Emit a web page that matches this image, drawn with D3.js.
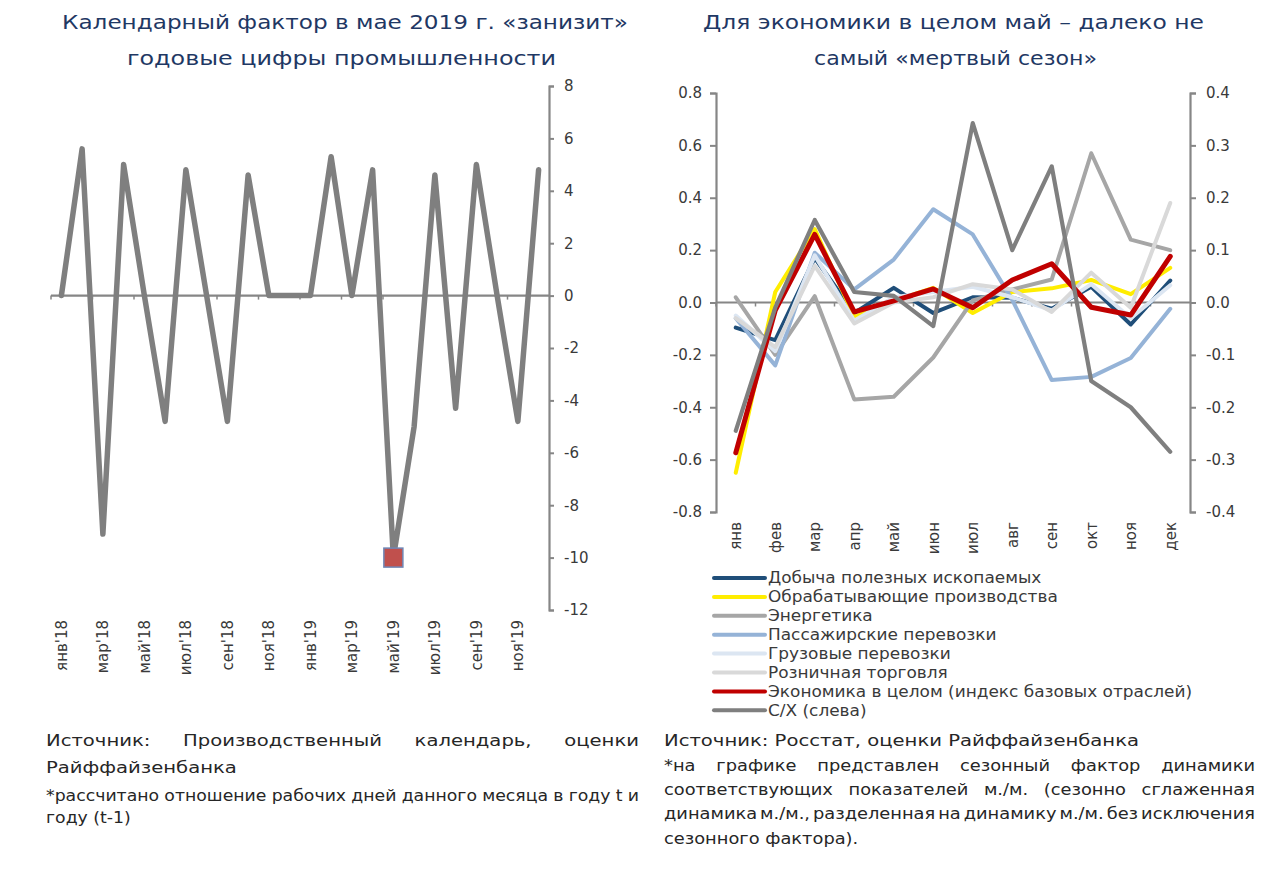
<!DOCTYPE html>
<html>
<head>
<meta charset="utf-8">
<script src="https://cdn.jsdelivr.net/npm/d3@7"></script>
<style>
  body { margin: 0; background: #fff; }
  svg { display: block; }
  text { font-family: 'DejaVu Sans', 'Noto Sans', sans-serif; }
</style>
</head>
<body>
<svg id="chart" width="1280" height="870"></svg>
<script>
// ---------------- DATA ----------------
// Left chart: calendar factor (working days ratio, %)
const monthsLeft = ["янв'18","фев'18","мар'18","апр'18","май'18","июн'18","июл'18","авг'18","сен'18","окт'18","ноя'18","дек'18",
                    "янв'19","фев'19","мар'19","апр'19","май'19","июн'19","июл'19","авг'19","сен'19","окт'19","ноя'19","дек'19"];
const calendarFactor = [0, 5.6, -9.1, 5.0, 0, -4.8, 4.8, 0, -4.8, 4.6, 0, 0,
                        0, 5.3, 0, 4.8, -10, -5.0, 4.6, -4.3, 5.0, 0, -4.8, 4.8];
const highlightMonth = "май'19";
const leftAxisTicks = [-12, -10, -8, -6, -4, -2, 0, 2, 4, 6, 8];

// Right chart: seasonal factors
const monthsRight = ["янв","фев","мар","апр","май","июн","июл","авг","сен","окт","ноя","дек"];
const mining      = [-0.048, -0.072, 0.085, -0.020, 0.028, -0.020, 0.010, 0.009, -0.012, 0.030, -0.042, 0.042];
const manufacturing = [-0.325, 0.020, 0.140, -0.028, 0.003, 0.028, -0.020, 0.020, 0.027, 0.043, 0.016, 0.066];
const energy      = [0.010, -0.100, 0.012, -0.185, -0.180, -0.105, 0.004, 0.025, 0.044, 0.285, 0.120, 0.100];
const passenger   = [-0.030, -0.120, 0.095, 0.025, 0.082, 0.178, 0.130, 0.005, -0.148, -0.142, -0.106, -0.012];
const freight     = [-0.025, -0.093, 0.090, -0.035, 0.010, 0.020, 0.030, 0.010, -0.015, 0.035, -0.030, 0.033];
const retail      = [-0.030, -0.085, 0.070, -0.040, 0.000, 0.010, 0.035, 0.025, -0.018, 0.057, -0.010, 0.190];
const economy     = [-0.287, -0.015, 0.130, -0.018, 0.003, 0.026, -0.010, 0.043, 0.074, -0.009, -0.024, 0.088];
const agriculture = [-0.490, -0.020, 0.315, 0.040, 0.025, -0.090, 0.685, 0.200, 0.520, -0.300, -0.400, -0.570]; // left axis

const seriesNames = ["Добыча полезных ископаемых","Обрабатывающие производства","Энергетика","Пассажирские перевозки",
                     "Грузовые перевозки","Розничная торговля","Экономика в целом (индекс базовых отраслей)","С/Х (слева)"];
const seriesValues = [mining, manufacturing, energy, passenger, freight, retail, economy, agriculture];
const seriesOnLeftAxis = [false, false, false, false, false, false, false, true];
const primaryTicks = [-0.8, -0.6, -0.4, -0.2, 0, 0.2, 0.4, 0.6, 0.8];
const secondaryTicks = [-0.4, -0.3, -0.2, -0.1, 0, 0.1, 0.2, 0.3, 0.4];

// Texts
const titleLeft = ["Календарный фактор в мае 2019 г. «занизит»", "годовые цифры промышленности"];
const titleRight = ["Для экономики в целом май – далеко не", "самый «мертвый сезон»"];
const sourceLeft = ["Источник: Производственный календарь, оценки", "Райффайзенбанка"];
const noteLeft = ["*рассчитано отношение рабочих дней данного месяца в году t и", "году (t-1)"];
const sourceRight = "Источник: Росстат, оценки Райффайзенбанка";
const noteRight = ["*на графике представлен сезонный фактор динамики",
                   "соответствующих показателей м./м. (сезонно сглаженная",
                   "динамика м./м., разделенная на динамику м./м. без исключения",
                   "сезонного фактора)."];

// ---------------- STYLE ----------------
const seriesColors = ["#1f4e79","#ffed00","#a6a6a6","#95b3d7","#dce6f2","#d9d9d9","#c00000","#7f7f7f"];
const seriesWidths = [4, 4, 4, 4, 4, 4, 5, 4.2];
const axisColor = "#868686";
const labelColor = "#3a3a3a";
const titleColor = "#1f3864";
const noteColor = "#262626";

const svg = d3.select("#chart");

function stretch(t, w) {
  t.attr("textLength", w).attr("lengthAdjust", "spacingAndGlyphs");
}
function natWidth(str, size) {
  const t = svg.append("text").attr("font-size", size).text(str);
  const w = t.node().getComputedTextLength();
  t.remove();
  return w;
}
function justify(str, x0, x1, y, size, k) {
  const words = str.split(/\s+/);
  const g = svg.append("g");
  const nodes = words.map(w => g.append("text").attr("y", y).attr("font-size", size).attr("fill", noteColor).text(w));
  const widths = nodes.map(n => n.node().getComputedTextLength() * k);
  const gap = (x1 - x0 - d3.sum(widths)) / (words.length - 1);
  let x = x0;
  nodes.forEach((n, i) => { n.attr("x", x); stretch(n, widths[i]); x += widths[i] + gap; });
}
function plain(str, x, y, size, k, color) {
  const t = svg.append("text").attr("x", x).attr("y", y).attr("font-size", size).attr("fill", color || noteColor).text(str);
  stretch(t, t.node().getComputedTextLength() * k);
  return t;
}

// ---------------- TITLES ----------------
function title(str, x, w, y) {
  const t = svg.append("text").attr("x", x).attr("y", y).attr("font-size", 20).attr("fill", titleColor).text(str);
  stretch(t, w);
}
title(titleLeft[0], 62, 566, 29);
title(titleLeft[1], 127, 429, 65);
title(titleRight[0], 703, 501, 29);
title(titleRight[1], 814, 283, 65);

// ---------------- LEFT CHART ----------------
const xL = d3.scaleBand().domain(monthsLeft).range([51, 549]);
const yL = d3.scaleLinear().domain([-12, 8]).range([610, 86]);
const gL = svg.append("g");

// zero line
gL.append("line").attr("x1", xL.range()[0]).attr("x2", xL.range()[1])
  .attr("y1", yL(0)).attr("y2", yL(0)).attr("stroke", axisColor).attr("stroke-width", 2.2);
// category ticks every 2 months
monthsLeft.forEach((m, i) => {
  if (i % 2 === 0) {
    gL.append("line").attr("x1", xL(m)).attr("x2", xL(m)).attr("y1", yL(0)).attr("y2", yL(0) + 4)
      .attr("stroke", axisColor).attr("stroke-width", 1.5);
  }
});
// y axis on right
const axL = gL.append("g").attr("transform", `translate(${xL.range()[1]},0)`)
  .call(d3.axisRight(yL).tickValues(leftAxisTicks).tickSize(5).tickPadding(10).tickFormat(d => String(d)));
axL.select(".domain").attr("stroke", axisColor).attr("stroke-width", 2.2);
axL.selectAll(".tick line").attr("stroke", axisColor).attr("stroke-width", 2);
axL.selectAll(".tick text").attr("font-size", 15).attr("fill", labelColor).attr("font-family", "'DejaVu Sans', sans-serif");

// line
const lineL = d3.line().x((d, i) => xL(monthsLeft[i]) + xL.bandwidth() / 2).y(d => yL(d));
gL.append("path").datum(calendarFactor).attr("d", lineL).attr("fill", "none")
  .attr("stroke", "#7f7f7f").attr("stroke-width", 5.5).attr("stroke-linejoin", "round").attr("stroke-linecap", "round");

// highlight marker
const hi = monthsLeft.indexOf(highlightMonth);
gL.append("rect").attr("x", xL(highlightMonth) + xL.bandwidth() / 2 - 9.5).attr("y", yL(calendarFactor[hi]) - 9.5)
  .attr("width", 19).attr("height", 19).attr("fill", "#c0504d").attr("stroke", "#6f86b5").attr("stroke-width", 1.5);

// category labels (every 2 months)
monthsLeft.forEach((m, i) => {
  if (i % 2 === 0) {
    const cx = xL(m) + xL.bandwidth() / 2;
    gL.append("text").attr("transform", `translate(${cx},${620}) rotate(-90)`)
      .attr("text-anchor", "end").attr("dy", "0.35em").attr("font-size", 15).attr("fill", labelColor).text(m);
  }
});

// ---------------- RIGHT CHART ----------------
const xR = d3.scaleBand().domain(monthsRight).range([716, 1190]);
const yP = d3.scaleLinear().domain([-0.8, 0.8]).range([512, 93]);
const yS = d3.scaleLinear().domain([-0.4, 0.4]).range([512, 93]);
const gR = svg.append("g");

// zero line
gR.append("line").attr("x1", xR.range()[0]).attr("x2", xR.range()[1])
  .attr("y1", yP(0)).attr("y2", yP(0)).attr("stroke", axisColor).attr("stroke-width", 2.2);
monthsRight.forEach(m => {
  gR.append("line").attr("x1", xR(m)).attr("x2", xR(m)).attr("y1", yP(0)).attr("y2", yP(0) + 4)
    .attr("stroke", axisColor).attr("stroke-width", 1.5);
});

const axP = gR.append("g").attr("transform", `translate(${xR.range()[0]},0)`)
  .call(d3.axisLeft(yP).tickValues(primaryTicks).tickSize(6).tickPadding(8).tickFormat(d => d.toFixed(1)));
const axS = gR.append("g").attr("transform", `translate(${xR.range()[1]},0)`)
  .call(d3.axisRight(yS).tickValues(secondaryTicks).tickSize(6).tickPadding(10).tickFormat(d => d.toFixed(1)));
[axP, axS].forEach(ax => {
  ax.select(".domain").attr("stroke", axisColor).attr("stroke-width", 2.2);
  ax.selectAll(".tick line").attr("stroke", axisColor).attr("stroke-width", 2);
  ax.selectAll(".tick text").attr("font-size", 15).attr("fill", labelColor).attr("font-family", "'DejaVu Sans', sans-serif");
});

// series
seriesValues.forEach((vals, s) => {
  const y = seriesOnLeftAxis[s] ? yP : yS;
  const ln = d3.line().x((d, i) => xR(monthsRight[i]) + xR.bandwidth() / 2).y(d => y(d));
  gR.append("path").datum(vals).attr("d", ln).attr("fill", "none")
    .attr("stroke", seriesColors[s]).attr("stroke-width", seriesWidths[s])
    .attr("stroke-linejoin", "round").attr("stroke-linecap", "round");
});

// category labels
monthsRight.forEach(m => {
  const cx = xR(m) + xR.bandwidth() / 2;
  gR.append("text").attr("transform", `translate(${cx},${522}) rotate(-90)`)
    .attr("text-anchor", "end").attr("dy", "0.35em").attr("font-size", 15).attr("fill", labelColor).text(m);
});

// legend
const legK = 424 / natWidth(seriesNames[6], 15.5);
seriesNames.forEach((name, s) => {
  const y = 578 + s * 18.9;
  gR.append("line").attr("x1", 714).attr("x2", 765).attr("y1", y).attr("y2", y)
    .attr("stroke", seriesColors[s]).attr("stroke-width", 4).attr("stroke-linecap", "round");
  const t = gR.append("text").attr("x", 768).attr("y", y).attr("dy", "0.35em").attr("font-size", 15.5)
    .attr("fill", labelColor).text(name);
  stretch(t, t.node().getComputedTextLength() * legK);
});

// ---------------- FOOTNOTES ----------------
const srcK = 475 / natWidth(sourceRight, 16.5);
justify(sourceLeft[0], 46, 639, 746, 16.5, srcK);
plain(sourceLeft[1], 46, 773, 16.5, srcK);
plain(sourceRight, 664, 746, 16.5, srcK);

const noteK = srcK;
justify(noteLeft[0], 46, 639, 801, 15, 0.97 * noteK);
plain(noteLeft[1], 46, 823, 15, 0.97 * noteK);
justify(noteRight[0], 664, 1255, 771, 15, noteK);
justify(noteRight[1], 664, 1255, 795, 15, noteK);
justify(noteRight[2], 664, 1255, 819, 15, noteK);
plain(noteRight[3], 664, 844, 15, noteK);
</script>
</body>
</html>
